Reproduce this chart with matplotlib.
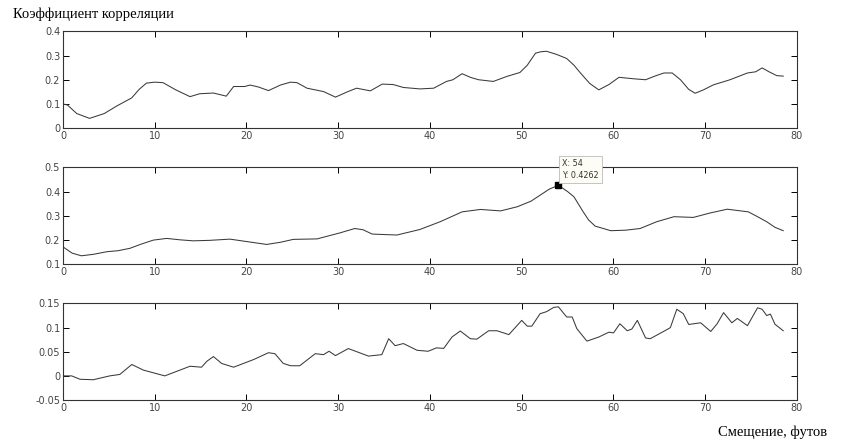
import numpy as np
import matplotlib.pyplot as plt

# curve 1: correlation coefficient, top panel
x1 = [0, 0.5, 1.5, 2.9, 4.5, 5.9, 7.5, 8.3, 9.1, 10.0, 10.9, 12.3, 13.85, 14.9, 16.4,
      17.8, 18.6, 19.8, 20.4, 21.3, 22.4, 23.7, 24.8, 25.5, 26.6, 28.4, 29.7, 31.0,
      32.0, 33.5, 34.8, 36.0, 37.1, 38.9, 40.4, 41.8, 42.5, 43.5, 44.4, 45.3, 46.9,
      48.4, 49.8, 50.6, 51.5, 52.1, 52.7, 53.8, 54.9, 55.7, 56.4, 57.4, 58.4, 59.5,
      60.6, 62.2, 63.5, 64.5, 65.5, 66.4, 67.3, 68.2, 68.9, 69.8, 70.9, 72.7, 74.6,
      75.5, 76.2, 77.0, 77.8, 78.5]
y1 = [0.10, 0.095, 0.06, 0.04, 0.06, 0.092, 0.125, 0.16, 0.186, 0.19, 0.188, 0.158,
      0.13, 0.142, 0.145, 0.132, 0.172, 0.172, 0.178, 0.17, 0.155, 0.178, 0.19, 0.188,
      0.165, 0.151, 0.128, 0.15, 0.165, 0.154, 0.182, 0.18, 0.168, 0.162, 0.165, 0.193,
      0.20, 0.225, 0.21, 0.20, 0.193, 0.214, 0.23, 0.26, 0.31, 0.316, 0.318, 0.305,
      0.288, 0.26, 0.228, 0.185, 0.158, 0.18, 0.21, 0.204, 0.20, 0.215, 0.228, 0.228,
      0.20, 0.16, 0.144, 0.158, 0.179, 0.20, 0.228, 0.233, 0.249, 0.232, 0.217, 0.215]

# curve 2: middle panel
x2 = [0, 1.0, 2.0, 3.3, 4.8, 6.0, 7.3, 8.5, 9.85, 11.3, 12.8, 14.2, 16.0, 18.2, 20.2,
      22.2, 23.7, 25.1, 27.7, 30.2, 31.8, 32.7, 33.7, 36.4, 38.9, 41.1, 43.5, 45.5,
      47.7, 49.5, 51.0, 52.0, 53.0, 54.0, 55.0, 55.7, 56.7, 57.3, 58.0, 59.7, 61.3,
      62.9, 64.7, 66.6, 68.7, 70.6, 72.4, 74.7, 75.6, 76.7, 77.6, 78.5]
y2 = [0.171, 0.145, 0.134, 0.14, 0.151, 0.155, 0.165, 0.182, 0.199, 0.206, 0.200,
      0.196, 0.198, 0.203, 0.192, 0.181, 0.19, 0.202, 0.204, 0.229, 0.247, 0.242,
      0.224, 0.22, 0.243, 0.275, 0.316, 0.326, 0.32, 0.337, 0.36, 0.385, 0.41, 0.4262,
      0.40, 0.378, 0.316, 0.282, 0.257, 0.238, 0.24, 0.247, 0.275, 0.296, 0.293,
      0.312, 0.327, 0.316, 0.298, 0.275, 0.252, 0.238]

# curve 3: bottom panel
x3 = [0, 0.95, 1.85, 3.3, 5.1, 6.2, 7.5, 8.76, 11.1, 13.85, 15.1, 15.7, 16.4, 17.3,
      18.6, 20.8, 22.4, 23.1, 24.0, 24.8, 25.8, 27.5, 28.4, 29.0, 29.7, 31.1, 33.3,
      34.75, 35.5, 36.2, 37.1, 38.6, 39.8, 40.7, 41.5, 42.4, 43.3, 44.4, 45.1, 46.4,
      47.3, 48.6, 50.0, 50.6, 51.1, 52.0, 52.7, 53.5, 54.0, 54.9, 55.5, 56.0, 57.1,
      58.4, 59.5, 60.0, 60.7, 61.5, 62.0, 62.6, 63.5, 64.0, 65.6, 66.2, 66.9, 67.6,
      68.2, 69.5, 70.6, 71.3, 72.0, 72.9, 73.5, 74.6, 75.7, 76.2, 76.7, 77.1, 77.6,
      78.5]
y3 = [0.0, 0.0, -0.007, -0.008, 0.0, 0.003, 0.0236, 0.012, 0.0, 0.02, 0.018, 0.0305,
      0.04, 0.0257, 0.018, 0.034, 0.048, 0.046, 0.026, 0.021, 0.021, 0.046, 0.044,
      0.051, 0.042, 0.0566, 0.041, 0.044, 0.077, 0.0625, 0.067, 0.053, 0.051, 0.058,
      0.057, 0.0805, 0.093, 0.077, 0.076, 0.0935, 0.0935, 0.0855, 0.115, 0.103, 0.103,
      0.1288, 0.133, 0.142, 0.143, 0.122, 0.122, 0.098, 0.072, 0.0805, 0.0905, 0.089,
      0.108, 0.0935, 0.097, 0.115, 0.0785, 0.077, 0.0935, 0.1, 0.138, 0.129, 0.1065,
      0.11, 0.092, 0.108, 0.131, 0.11, 0.119, 0.104, 0.141, 0.138, 0.125, 0.128,
      0.107, 0.0935]

yticks1 = [0, 0.1, 0.2, 0.3, 0.4]
yticks2 = [0.1, 0.2, 0.3, 0.4, 0.5]
yticks3 = [-0.05, 0, 0.05, 0.1, 0.15]
xticks = [0, 10, 20, 30, 40, 50, 60, 70, 80]

fig = plt.figure(figsize=(8.44, 4.47), dpi=100)
left, width, height = 0.0746, 0.8697, 0.216
bottoms = [0.7136, 0.4094, 0.1051]

panels = [(x1, y1, yticks1), (x2, y2, yticks2), (x3, y3, yticks3)]
axes = []
for (xs, ys, yt), b in zip(panels, bottoms):
    ax = fig.add_axes([left, b, width, height])
    ax.plot(xs, ys, color='#3a3a3a', linewidth=0.75)
    ax.set_xlim(0, 80)
    ax.set_ylim(yt[0], yt[-1])
    ax.set_xticks(xticks)
    ax.set_xticklabels([str(t) for t in xticks])
    ax.set_yticks(yt)
    ax.set_yticklabels([f"{t:g}" for t in yt])
    ax.tick_params(direction='in', length=4, width=0.7, top=True, right=True,
                   labelsize=7, labelcolor='#444444', pad=2)
    for s in ax.spines.values():
        s.set_linewidth(0.8)
        s.set_color('#333333')
    axes.append(ax)

# data tip on the middle panel
ax2 = axes[1]
ax2.plot([54], [0.4262], marker='s', color='black', markersize=4)
ax2.text(54.4, 0.447, "X: 54\nY: 0.4262", fontsize=5.8, color='#333333',
         va='bottom', ha='left', linespacing=1.5, clip_on=False,
         bbox=dict(boxstyle='square,pad=0.35', facecolor='#fdfdf6',
                   edgecolor='#bbbbbb', linewidth=0.6))

fig.text(0.015, 0.968, "Коэффициент корреляции", family='Liberation Serif',
         fontsize=10.5, va='center', ha='left')
fig.text(0.98, 0.034, "Смещение, футов", family='Liberation Serif',
         fontsize=10.5, va='center', ha='right')

fig.savefig("out.png", dpi=100)
